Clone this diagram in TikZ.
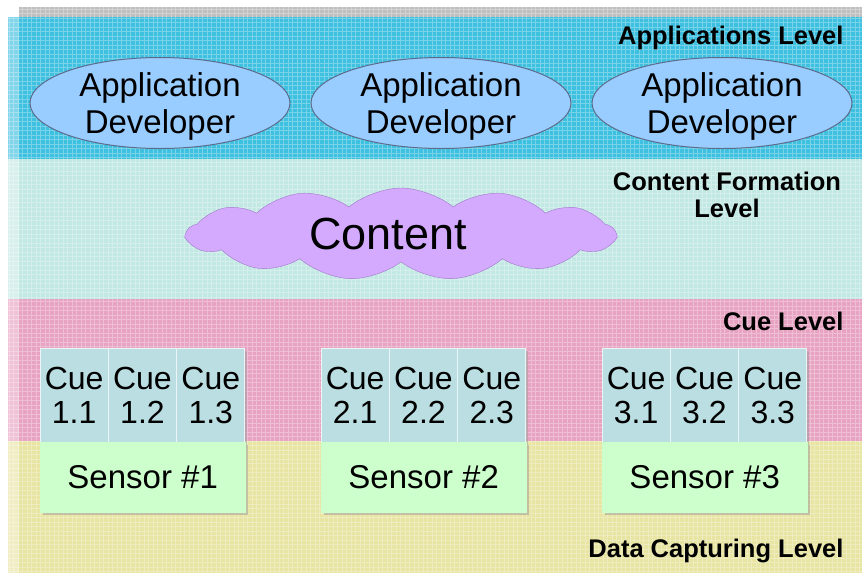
\documentclass[tikz,border=0pt]{standalone}
\usepackage{fontspec}
\setmainfont{Liberation Sans}
\usetikzlibrary{shapes.geometric,shapes.symbols,shadows}

\definecolor{appband}{RGB}{62,192,224}
\definecolor{contentband}{RGB}{194,232,228}
\definecolor{cueband}{RGB}{232,162,194}
\definecolor{databand}{RGB}{232,228,162}
\definecolor{devfill}{RGB}{153,204,255}
\definecolor{devline}{RGB}{92,108,140}
\definecolor{cloudfill}{RGB}{212,170,255}
\definecolor{cloudline}{RGB}{160,120,200}
\definecolor{cuefill}{RGB}{186,222,226}
\definecolor{sensorfill}{RGB}{204,255,204}

\tikzset{
    levelname/.style={font=\fontsize{25.5}{27}\selectfont\bfseries, align=center},
    devnode/.style={ellipse, draw=devline, line width=1pt, fill=devfill,
        minimum width=260pt, minimum height=91pt, inner sep=0pt, align=center,
        text depth=0pt, font=\fontsize{33}{37}\selectfont},
    cuebox/.style={rectangle, draw=white!70!cuefill, line width=1pt, fill=cuefill,
        minimum width=68.3pt, minimum height=94pt, inner sep=0pt, align=center,
        font=\fontsize{32}{34}\selectfont,
        drop shadow={shadow xshift=2.5pt, shadow yshift=-2.5pt, fill=gray!80}},
    sensorbox/.style={rectangle, draw=sensorfill, fill=sensorfill,
        minimum width=205pt, minimum height=70pt, inner sep=0pt,
        font=\fontsize{33}{34}\selectfont,
        drop shadow={shadow xshift=2.5pt, shadow yshift=-2.5pt, fill=gray!80}},
}

\begin{document}
\begin{tikzpicture}[x=1pt, y=-1pt]
    \useasboundingbox (0,0) rectangle (862,574);
    \fill[white] (0,0) rectangle (862,574);

    % Level bands
    \fill[gray!50] (19,7) rectangle (862,17);
    \fill[appband] (8,17) rectangle (862,159);
    \fill[contentband] (8,159) rectangle (862,299);
    \fill[cueband] (8,299) rectangle (862,441);
    \fill[databand] (8,441) rectangle (862,573);
    \fill[white, opacity=0.35] (8,17) rectangle (19,573);
    \draw[white, opacity=0.3, line width=0.4pt, step=4.5pt] (8,7) grid (862,573);

    % Level names
    \node[levelname, anchor=east] (applevel) at (847,38) {Applications Level};
    \node[levelname] (contentlevel) at (727,195) {Content Formation\\Level};
    \node[levelname, anchor=east] (cuelevel) at (847,321) {Cue Level};
    \node[levelname, anchor=east] (datalevel) at (847,551) {Data Capturing Level};

    % Application developers
    \foreach \i in {1,2,3} {
        \node[devnode] (dev\i) at ({160+(\i-1)*281}, 103) {Application\\Developer};
    }

    % Content cloud
    \node[cloud, cloud puffs=13, cloud puff arc=80, aspect=4.7, draw=cloudline,
        fill=cloudfill, minimum width=428pt, minimum height=92pt, inner sep=0pt,
        font=\fontsize{45}{46}\selectfont] (content) at (401,234) {Content\hspace*{26pt}};

    % Cues and sensors
    \foreach \g in {1,2,3} {
        \foreach \c in {1,2,3} {
            \node[cuebox] (cue\g\c) at ({40+(\g-1)*281+34.15+(\c-1)*68.3}, 395) {Cue\\\g.\c};
        }
        \node[sensorbox, anchor=north west] (sensor\g) at ({40+(\g-1)*281}, 442) {Sensor \#\g};
    }
\end{tikzpicture}
\end{document}
